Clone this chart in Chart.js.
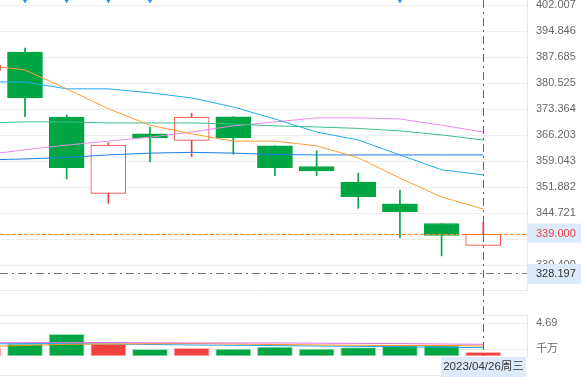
<!DOCTYPE html>
<html>
<head>
<meta charset="utf-8">
<script src="https://cdn.jsdelivr.net/npm/chart.js@4.4.0/dist/chart.umd.min.js"></script>
<style>
    html, body { margin: 0; padding: 0; background: #fff; }
    #wrap { position: relative; width: 581px; height: 377px; overflow: hidden; }
    #priceBox { position: absolute; left: 0; top: 0; width: 581px; height: 291px; }
    #volBox { position: absolute; left: 0; top: 291px; width: 581px; height: 86px; }
</style>
</head>
<body>
<div id="wrap">
    <div id="priceBox"><canvas id="price"></canvas></div>
    <div id="volBox"><canvas id="vol"></canvas></div>
</div>
<script>
// Daily candles, last one is the cursor day
const dates = ['2023/04/10', '2023/04/11', '2023/04/12', '2023/04/13', '2023/04/14', '2023/04/17', '2023/04/18',
               '2023/04/19', '2023/04/20', '2023/04/21', '2023/04/24', '2023/04/25', '2023/04/26'];
const opens  = [384.1, 389.1, 371.2, 350.2, 366.6, 364.8, 371.3, 363.3, 357.6, 353.3, 347.3, 341.9, 335.9];
const highs  = [386.5, 390.2, 371.8, 364.2, 368.5, 372.3, 371.3, 363.3, 361.9, 355.8, 351.1, 341.9, 342.2];
const lows   = [383.0, 371.3, 354.2, 347.5, 358.9, 360.3, 361.0, 355.1, 355.1, 346.1, 338.0, 333.0, 335.9];
const closes = [385.5, 376.5, 357.3, 363.5, 365.5, 371.2, 365.5, 357.3, 356.4, 349.3, 345.1, 338.6, 339.0];

// Moving averages on the price pane
const ma5  = [385.6, 384.2, 379.0, 373.5, 369.0, 366.6, 364.6, 364.6, 363.3, 360.0, 354.4, 349.2, 345.9];
const ma10 = [380.9, 380.9, 379.0, 379.0, 377.9, 376.5, 374.0, 370.7, 367.1, 364.9, 360.8, 356.7, 355.3];
const ma20 = [369.6, 369.9, 369.9, 369.6, 369.6, 369.6, 369.3, 368.8, 368.5, 368.1, 367.4, 366.3, 364.9];
const ma30 = [360.8, 362.2, 363.5, 364.6, 365.7, 367.1, 368.8, 369.9, 371.0, 371.0, 370.7, 369.0, 367.1];
const ma60 = [359.4, 359.7, 360.1, 360.8, 361.3, 361.5, 361.3, 360.9, 360.8, 360.8, 360.8, 360.8, 360.8];

// Volume (千万) and its averages
const volumes = [1.10, 1.72, 3.11, 1.72, 0.96, 1.10, 1.00, 1.29, 1.00, 1.19, 1.48, 1.48, 0.53];
const volMa5  = [1.33, 1.51, 1.68, 1.72, 1.76, 1.79, 1.72, 1.65, 1.58, 1.54, 1.51, 1.51, 1.43];
const volMa10 = [1.72, 1.79, 1.79, 1.72, 1.65, 1.58, 1.54, 1.49, 1.43, 1.38, 1.32, 1.26, 1.19];
const volMa20 = [1.91, 1.91, 1.94, 1.94, 1.89, 1.87, 1.87, 1.87, 1.84, 1.81, 1.78, 1.72, 1.68];

const priceTicks = [402.007, 394.846, 387.685, 380.525, 373.364, 366.203, 359.043, 351.882, 344.721, 337.561, 330.400];
const volTicks = [4.69, 0.96];
const volTickLabels = ['4.69', '千万'];

const lastPrice = 339.000;
const markPrice = 328.197;
const flagDays = [1, 2, 3, 4, 10];
const cursorIndex = 12;
const weekday = '周三';

const priceMin = 323.32, priceMax = 403.467;
const xMin = 0.4, xMax = 13.05;

const FONT = "'Liberation Sans', 'Noto Sans CJK SC', sans-serif";
const UP = '#f04040';
const DOWN = '#00a644';
const BOX = '#dcebfb';

const isUp = i => closes[i] >= opens[i];
const series = arr => arr.map((v, i) => ({ x: i, y: v }));

function maLine(data, color) {
    return {
        type: 'line', data: series(data), borderColor: color, borderWidth: 1,
        pointRadius: 0, tension: 0, order: 0
    };
}

function dashDot(ctx) { ctx.setLineDash([8, 4, 2, 4]); }

// right axis: fixed width, no automatic label padding
function fitAxis(s) {
    s.width = 54;
    s.paddingTop = 0;
    s.paddingBottom = 0;
}

const xScale = { type: 'linear', min: xMin, max: xMax, offset: false, display: false };

// Price pane overlays
const pricePlugin = {
    id: 'priceOverlay',
    afterDatasetsDraw(chart) {
        const { ctx, chartArea, scales } = chart;
        const yLast = Math.round(scales.y.getPixelForValue(lastPrice)) + 0.5;
        const yMark = Math.round(scales.y.getPixelForValue(markPrice)) + 0.5;
        const xc = Math.round(scales.x.getPixelForValue(cursorIndex)) + 0.5;
        const boxX = chartArea.right + 0.5;
        const boxW = chart.width - boxX;
        ctx.save();
        ctx.lineWidth = 1;
        // pane bottom
        ctx.strokeStyle = '#e6e8eb';
        ctx.beginPath();
        ctx.moveTo(0, chartArea.bottom - 0.5);
        ctx.lineTo(chartArea.right, chartArea.bottom - 0.5);
        ctx.stroke();
        // last price
        ctx.strokeStyle = '#ff7f1a';
        ctx.setLineDash([4, 2]);
        ctx.beginPath();
        ctx.moveTo(chartArea.left, yLast);
        ctx.lineTo(chartArea.right, yLast);
        ctx.stroke();
        // mark line
        ctx.strokeStyle = '#77777d';
        dashDot(ctx);
        ctx.beginPath();
        ctx.moveTo(chartArea.left, yMark);
        ctx.lineTo(chartArea.right, yMark);
        ctx.stroke();
        // cursor
        ctx.strokeStyle = '#66666c';
        ctx.beginPath();
        ctx.moveTo(xc, 0);
        ctx.lineTo(xc, chart.height);
        ctx.stroke();
        ctx.setLineDash([]);
        // label boxes
        ctx.font = '11px ' + FONT;
        ctx.textBaseline = 'middle';
        ctx.textAlign = 'left';
        ctx.fillStyle = BOX;
        ctx.fillRect(boxX, yLast - 11, boxW, 19);
        ctx.fillStyle = '#e84444';
        ctx.fillText(lastPrice.toFixed(3), chartArea.right + 9, yLast - 1);
        ctx.fillStyle = BOX;
        ctx.fillRect(boxX, yMark - 9.5, boxW, 20);
        ctx.fillStyle = '#333';
        ctx.fillText(markPrice.toFixed(3), chartArea.right + 9, yMark + 0.5);
        ctx.restore();
    }
};

new Chart(document.getElementById('price'), {
    data: {
        datasets: [
            maLine(ma5, '#ff9c33'),
            maLine(ma10, '#22aaee'),
            maLine(ma20, '#3dbf88'),
            maLine(ma30, '#e88ae8'),
            maLine(ma60, '#1e7fe6'),
            {
                type: 'line', showLine: false, clip: false, order: 0,
                data: flagDays.map(i => ({ x: i, y: priceMax })),
                pointStyle: 'triangle', rotation: 180, pointRadius: 3.5,
                backgroundColor: '#2b8ff0', borderWidth: 0
            },
            {
                type: 'bar', grouped: false, order: 1, barThickness: 35,
                data: opens.map((o, i) => ({ x: i, y: [o, closes[i]] })),
                backgroundColor: c => isUp(c.dataIndex) ? '#ffffff' : DOWN,
                borderColor: c => isUp(c.dataIndex) ? UP : DOWN,
                borderWidth: 1, borderSkipped: false
            },
            {
                type: 'bar', grouped: false, order: 2, barThickness: 1,
                data: lows.map((l, i) => ({ x: i, y: [l, highs[i]] })),
                backgroundColor: c => isUp(c.dataIndex) ? UP : DOWN,
                borderWidth: 0
            }
        ]
    },
    options: {
        responsive: true, maintainAspectRatio: false, animation: false,
        layout: { padding: 0, autoPadding: false },
        plugins: { legend: { display: false }, tooltip: { enabled: false } },
        scales: {
            x: xScale,
            y: {
                position: 'right', min: priceMin, max: priceMax,
                afterBuildTicks: s => { s.ticks = priceTicks.map(v => ({ value: v })); },
                afterFit: fitAxis,
                grid: { color: '#eceef1', drawTicks: false },
                border: { color: '#e6e8eb' },
                ticks: {
                    padding: 9, color: '#666', autoSkip: false,
                    font: { size: 11, family: FONT },
                    callback: v => Number(v).toFixed(3)
                }
            }
        }
    },
    plugins: [pricePlugin]
});

// Volume pane overlays
const volPlugin = {
    id: 'volOverlay',
    afterDatasetsDraw(chart) {
        const { ctx, chartArea, scales } = chart;
        const xc = Math.round(scales.x.getPixelForValue(cursorIndex)) + 0.5;
        ctx.save();
        ctx.lineWidth = 1;
        ctx.strokeStyle = '#e6e8eb';
        ctx.beginPath();
        ctx.moveTo(0, chartArea.top + 0.5);
        ctx.lineTo(chartArea.right, chartArea.top + 0.5);
        ctx.moveTo(0, chart.height - 1.5);
        ctx.lineTo(chartArea.right, chart.height - 1.5);
        ctx.stroke();
        ctx.strokeStyle = '#66666c';
        ctx.setLineDash([8, 4, 2, 4]);
        ctx.lineDashOffset = 3;
        ctx.beginPath();
        ctx.moveTo(xc, 0);
        ctx.lineTo(xc, chartArea.bottom + 1);
        ctx.stroke();
        ctx.setLineDash([]);
        // date box under the cursor
        const label = dates[cursorIndex] + weekday;
        ctx.font = '11.5px ' + FONT;
        const w = 85;
        ctx.fillStyle = BOX;
        ctx.fillRect(xc - w / 2, chartArea.bottom + 1, w, chart.height - chartArea.bottom - 1);
        ctx.fillStyle = '#333';
        ctx.textAlign = 'center';
        ctx.textBaseline = 'middle';
        ctx.fillText(label, xc, chartArea.bottom + 11);
        ctx.restore();
    }
};

new Chart(document.getElementById('vol'), {
    data: {
        datasets: [
            maLine(volMa20, '#e070e0'),
            maLine(volMa5, '#ff9020'),
            maLine(volMa10, '#20a8f0'),
            {
                type: 'bar', grouped: false, order: 1, barThickness: 35,
                data: series(volumes),
                backgroundColor: c => isUp(c.dataIndex) ? UP : DOWN,
                borderColor: c => isUp(c.dataIndex) ? 'rgba(250,170,170,0.9)' : 'rgba(150,220,180,0.9)',
                borderWidth: 1, borderSkipped: false
            }
        ]
    },
    options: {
        responsive: true, maintainAspectRatio: false, animation: false,
        layout: { padding: { top: 24, bottom: 21 }, autoPadding: false },
        plugins: { legend: { display: false }, tooltip: { enabled: false } },
        scales: {
            x: xScale,
            y: {
                position: 'right', min: 0, max: 5.88,
                afterBuildTicks: s => { s.ticks = volTicks.map(v => ({ value: v })); },
                afterFit: fitAxis,
                grid: { color: '#eceef1', drawTicks: false },
                border: { color: '#e6e8eb' },
                ticks: {
                    padding: 9, color: '#666', autoSkip: false,
                    font: { size: 11, family: FONT },
                    callback: (v, i) => volTickLabels[i]
                }
            }
        }
    },
    plugins: [volPlugin]
});
</script>
</body>
</html>
